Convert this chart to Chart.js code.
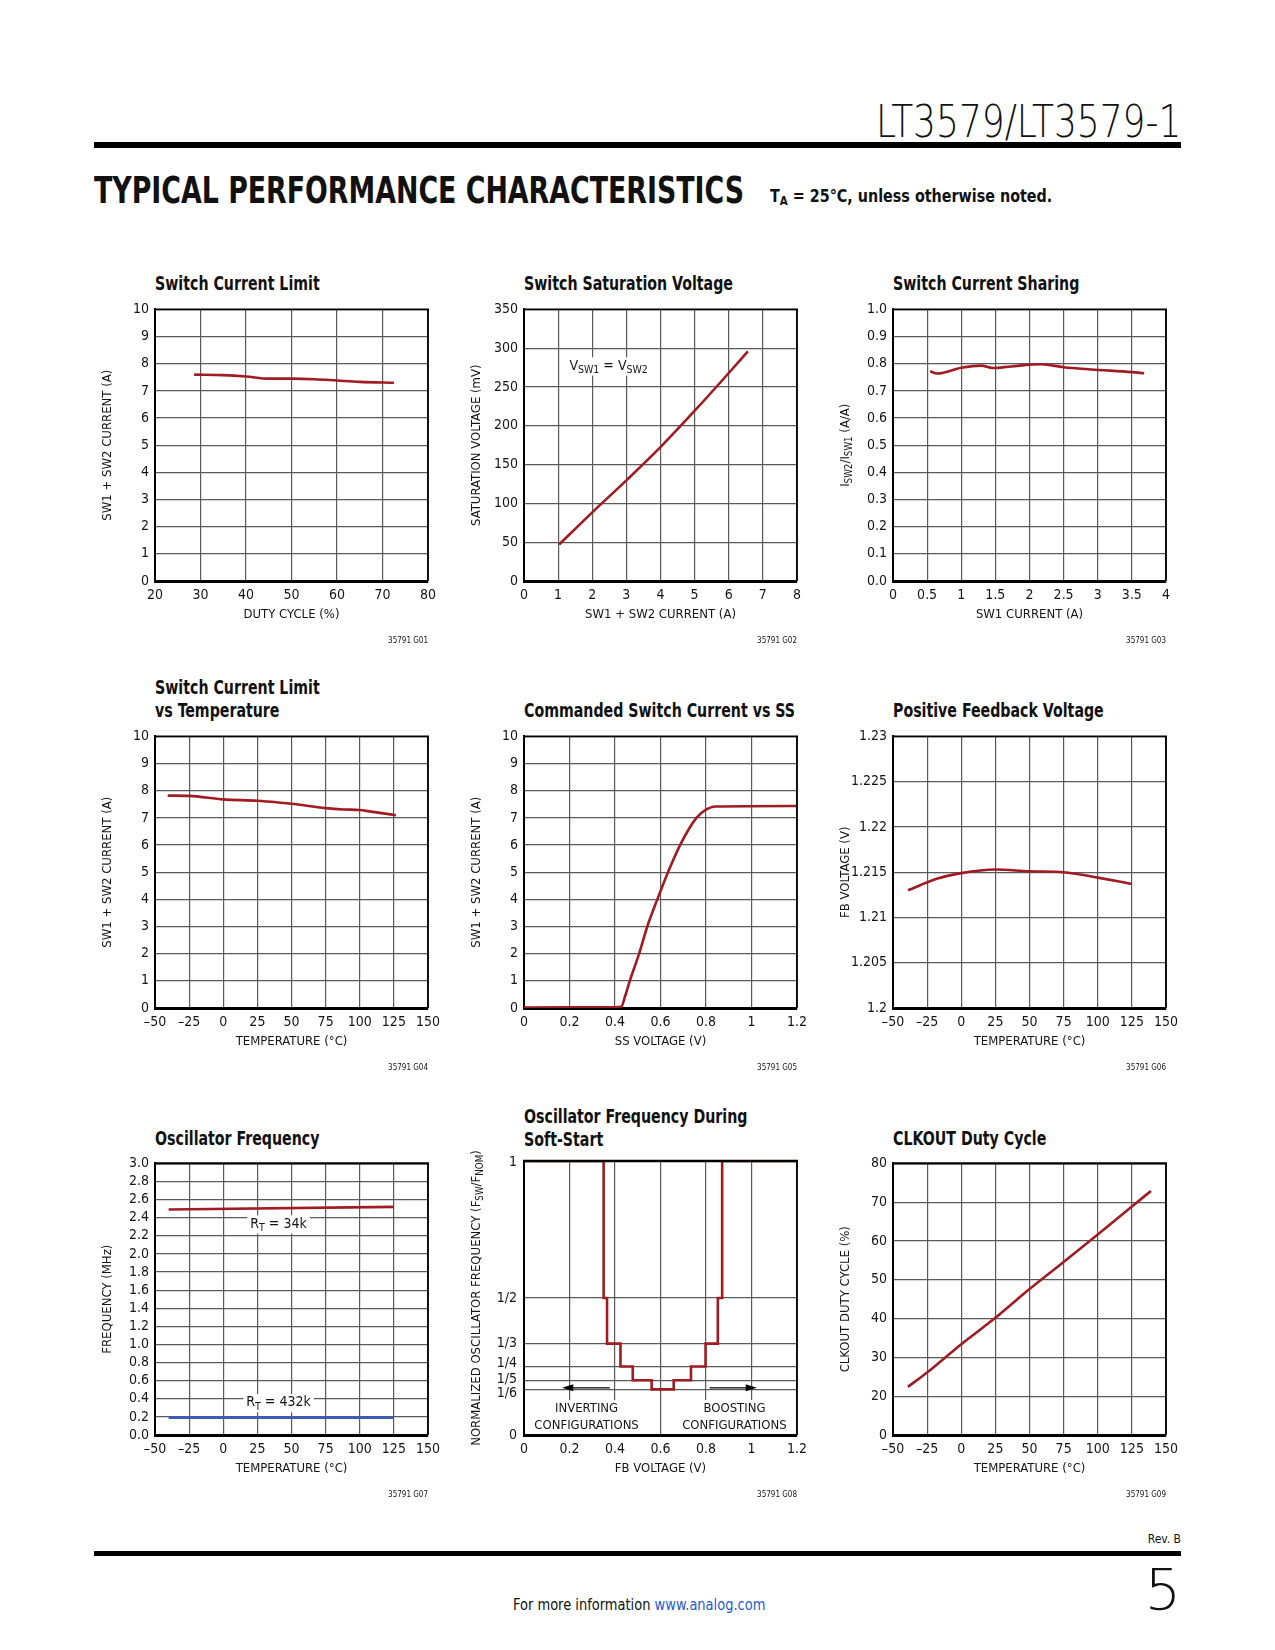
<!DOCTYPE html>
<html>
<head>
<meta charset="utf-8">
<script src="https://cdn.jsdelivr.net/npm/chart.js@4.4.0/dist/chart.umd.min.js"></script>
<style>
  body { margin: 0; background: #fff; width: 1275px; height: 1650px; position: relative; overflow: hidden;
         font-family: "Liberation Sans Narrow", "DejaVu Sans Condensed", sans-serif; color: #111; }
  .abs { position: absolute; white-space: nowrap; line-height: 1; }
  .ttl { position: absolute; white-space: nowrap; font-weight: bold; font-size: 19px; line-height: 23px; color: #111;
         transform: scaleX(0.83); transform-origin: left; }
  .bar { position: absolute; background: #000; }
  canvas { position: absolute; }
  sub { font-size: 72%; vertical-align: -3px; line-height: 0; }
</style>
</head>
<body>

<div class="abs" id="part" style="right:94px;top:100px;font-family:'DejaVu Sans';font-weight:200;font-size:44px;transform-origin:right;">LT3579/LT3579-1</div>
<div class="bar" style="left:94px;top:141.5px;width:1087px;height:6px;"></div>
<div class="abs" id="head" style="left:94px;top:172px;font-weight:bold;font-size:37px;transform-origin:left;">TYPICAL PERFORMANCE CHARACTERISTICS</div>
<div class="abs" id="cond" style="left:769.5px;top:187.5px;font-weight:bold;font-size:17px;transform-origin:left;">T<sub>A</sub> = 25°C, unless otherwise noted.</div>

<div class="ttl" style="left:155px;top:271.5px;">Switch Current Limit</div>
<div class="ttl" style="left:523.5px;top:271.5px;">Switch Saturation Voltage</div>
<div class="ttl" style="left:892.5px;top:271.5px;">Switch Current Sharing</div>
<div class="ttl" style="left:155px;top:675.5px;">Switch Current Limit<br>vs Temperature</div>
<div class="ttl" style="left:523.5px;top:698.5px;">Commanded Switch Current vs SS</div>
<div class="ttl" style="left:892.5px;top:698.5px;">Positive Feedback Voltage</div>
<div class="ttl" style="left:155px;top:1127px;">Oscillator Frequency</div>
<div class="ttl" style="left:523.5px;top:1105px;line-height:22.5px;">Oscillator Frequency During<br>Soft-Start</div>
<div class="ttl" style="left:892.5px;top:1127px;">CLKOUT Duty Cycle</div>

<div class="abs" style="right:94px;top:1533px;font-size:12px;">Rev. B</div>
<div class="bar" style="left:94px;top:1550.5px;width:1087px;height:5.5px;"></div>
<div class="abs" id="pnum" style="right:94px;top:1562px;font-family:'DejaVu Sans';font-weight:200;font-size:57px;transform-origin:right;">5</div>
<div class="abs" id="foot" style="left:512.5px;top:1598px;font-size:15px;transform-origin:left;">For more information <span style="color:#1f5bd0;">www.analog.com</span></div>

<script>
// ---------- data ----------
// G01 switch current limit vs duty cycle
var g1Duty = [28.6, 35, 40, 45, 50, 55, 60, 65, 72.5];
var g1Current = [7.6, 7.58, 7.53, 7.45, 7.45, 7.43, 7.38, 7.33, 7.3];
var g1XTicks = [20, 30, 40, 50, 60, 70, 80];
var g1YTicks = [0, 1, 2, 3, 4, 5, 6, 7, 8, 9, 10];

// G02 switch saturation voltage
var g2Current = [1.03, 2, 3.03, 4.02, 5.03, 6.02, 6.56];
var g2Vsat = [47, 88.5, 131, 173.5, 220.7, 269, 296];
var g2XTicks = [0, 1, 2, 3, 4, 5, 6, 7, 8];
var g2YTicks = [0, 50, 100, 150, 200, 250, 300, 350];

// G03 switch current sharing
var g3Isw1 = [0.544, 0.65, 1.0, 1.29, 1.46, 1.73, 2.17, 2.5, 2.9, 3.5, 3.68];
var g3Ratio = [0.772, 0.764, 0.785, 0.793, 0.784, 0.79, 0.798, 0.787, 0.779, 0.769, 0.765];
var g3XTicks = [0, 0.5, 1, 1.5, 2, 2.5, 3, 3.5, 4];
var g3XLabels = ["0", "0.5", "1", "1.5", "2", "2.5", "3", "3.5", "4"];
var g3YTicks = [0, 0.1, 0.2, 0.3, 0.4, 0.5, 0.6, 0.7, 0.8, 0.9, 1.0];
var g3YLabels = ["0.0", "0.1", "0.2", "0.3", "0.4", "0.5", "0.6", "0.7", "0.8", "0.9", "1.0"];

// temperature axis shared by G04, G06, G07, G09
var tempTicks = [-50, -25, 0, 25, 50, 75, 100, 125, 150];
var tempLabels = ["–50", "–25", "0", "25", "50", "75", "100", "125", "150"];

// G04 current limit vs temperature
var g4Temp = [-40.7, -25, 0, 25, 42, 50, 75, 88, 100, 107, 126.5];
var g4Current = [7.82, 7.81, 7.68, 7.63, 7.56, 7.52, 7.36, 7.31, 7.29, 7.24, 7.1];

// G05 commanded switch current vs SS
var g5Ss = [0, 0.4, 0.428, 0.445, 0.465, 0.506, 0.542, 0.586, 0.633, 0.686, 0.758, 0.8, 0.84, 1.2];
var g5Current = [0.02, 0.03, 0.05, 0.45, 1, 2, 3, 4, 5, 6, 7, 7.3, 7.42, 7.44];
var ssTicks = [0, 0.2, 0.4, 0.6, 0.8, 1, 1.2];
var ssLabels = ["0", "0.2", "0.4", "0.6", "0.8", "1", "1.2"];

// G06 positive feedback voltage
var g6Temp = [-39, -17.4, 0, 25, 50, 75, 85, 100, 125];
var g6Fb = [1.2130, 1.2143, 1.2149, 1.2153, 1.2151, 1.2150, 1.2148, 1.2144, 1.2137];
var g6YTicks = [1.2, 1.205, 1.21, 1.215, 1.22, 1.225, 1.23];
var g6YLabels = ["1.2", "1.205", "1.21", "1.215", "1.22", "1.225", "1.23"];

// G07 oscillator frequency
var g7Temp = [-40, 125];
var g7Rt34k = [2.49, 2.52];
var g7Rt432k = [0.19, 0.19];
var g7YTicks = [0, 0.2, 0.4, 0.6, 0.8, 1, 1.2, 1.4, 1.6, 1.8, 2, 2.2, 2.4, 2.6, 2.8, 3];
var g7YLabels = ["0.0", "0.2", "0.4", "0.6", "0.8", "1.0", "1.2", "1.4", "1.6", "1.8", "2.0", "2.2", "2.4", "2.6", "2.8", "3.0"];

// G08 oscillator frequency during soft-start (stepped)
var g8Fb = [0, 0.35, 0.365, 0.424, 0.478, 0.561, 0.658, 0.734, 0.798, 0.852, 0.871, 1.2];
var g8Ratio = [1, 1/2, 1/3, 1/4, 1/5, 1/6, 1/5, 1/4, 1/3, 1/2, 1, 1];
var g8YTicks = [0, 1/6, 1/5, 1/4, 1/3, 1/2, 1];
var g8YLabels = ["0", "1/6", "1/5", "1/4", "1/3", "1/2", "1"];

// G09 CLKOUT duty cycle (broken axis: bottom tick reads 0)
var g9Temp = [-39.1, -25, 0, 25, 50, 75, 100, 125, 139];
var g9Duty = [22.4, 26.1, 33.4, 40.2, 47.6, 54.6, 61.7, 68.9, 72.9];
var g9YTicks = [10, 20, 30, 40, 50, 60, 70, 80];
var g9YLabels = ["0", "20", "30", "40", "50", "60", "70", "80"];

// ---------- layout ----------
var FONT = '"Liberation Sans Narrow", "DejaVu Sans Condensed", sans-serif';
var RED = "#a01c22", BLUE = "#3a5cc4", GRID = "#5a5a5a", TXT = "#151515";
var COL_L = [155, 523.5, 892.5], ROW_T = [306.5, 734.3, 1161], PW = 273, PH = 274.4;
var PAD_L = 75, PAD_T = 12, PAD_R = 22, PAD_B = 72;

function parseRich(str) {
  var parts = [], re = /_\{([^}]*)\}/g, last = 0, m;
  while ((m = re.exec(str))) {
    if (m.index > last) parts.push({ t: str.slice(last, m.index), sub: false });
    parts.push({ t: m[1], sub: true });
    last = re.lastIndex;
  }
  if (last < str.length) parts.push({ t: str.slice(last), sub: false });
  return parts;
}

function drawRich(ctx, str, x, y, size, align, bg) {
  var parts = parseRich(str), w = 0;
  parts.forEach(function (p) {
    ctx.font = (p.sub ? size * 0.75 : size) + "px " + FONT;
    p.w = ctx.measureText(p.t).width;
    w += p.w;
  });
  var sx = align === "center" ? x - w / 2 : (align === "right" ? x - w : x);
  if (bg) {
    ctx.fillStyle = "#fff";
    ctx.fillRect(sx - 3, y - size * 0.62, w + 6, size * 1.3);
  }
  ctx.fillStyle = TXT;
  ctx.textBaseline = "middle";
  ctx.textAlign = "left";
  parts.forEach(function (p) {
    ctx.font = (p.sub ? size * 0.75 : size) + "px " + FONT;
    ctx.fillText(p.t, sx, p.sub ? y + size * 0.3 : y);
    sx += p.w;
  });
}

function axis(min, max, ticks, labels, isX, hideLabels) {
  return {
    type: "linear", min: min, max: max,
    afterBuildTicks: function (s) { s.ticks = ticks.map(function (v) { return { value: v }; }); },
    afterFit: function (s) { if (isX) s.height = PAD_B; else s.width = PAD_L; },
    grid: { color: GRID, lineWidth: 1.2, drawTicks: false },
    border: { color: "#000", width: isX ? 3 : 2 },
    ticks: {
      display: !hideLabels,
      autoSkip: false, maxRotation: 0, padding: 6, color: TXT,
      font: { family: FONT, size: 14 },
      callback: function (v, i) { return labels ? labels[i] : String(ticks[i]); }
    }
  };
}

function series(xs, ys, color, stepped) {
  return {
    data: xs.map(function (x, i) { return { x: x, y: ys[i] }; }),
    borderColor: color, borderWidth: 2.6, pointRadius: 0, fill: false,
    cubicInterpolationMode: stepped ? "default" : "monotone",
    stepped: stepped ? "before" : false
  };
}

function makeChart(cfg) {
  var cv = document.createElement("canvas");
  cv.width = PAD_L + PW + PAD_R;
  cv.height = Math.round(PAD_T + PH + PAD_B);
  cv.style.left = (COL_L[cfg.col] - PAD_L) + "px";
  cv.style.top = (ROW_T[cfg.row] - PAD_T) + "px";
  document.body.appendChild(cv);

  var decor = {
    id: "decor",
    afterDatasetsDraw: function (chart) {
      var ctx = chart.ctx, a = chart.chartArea;
      ctx.save();
      ctx.strokeStyle = "#000";
      ctx.lineWidth = cfg.topW || 1.8;
      ctx.beginPath(); ctx.moveTo(a.left - 1, a.top); ctx.lineTo(a.right + 1, a.top); ctx.stroke();
      ctx.lineWidth = 1.8;
      ctx.beginPath(); ctx.moveTo(a.right, a.top); ctx.lineTo(a.right, a.bottom); ctx.stroke();
      ctx.restore();
    },
    afterDraw: function (chart) {
      var ctx = chart.ctx, a = chart.chartArea, sx = chart.scales.x, sy = chart.scales.y;
      ctx.save();
      // y tick labels nudged apart where the ticks crowd together
      if (cfg.yShift) {
        cfg.yTicks.forEach(function (v, i) {
          ctx.font = "14px " + FONT;
          ctx.fillStyle = TXT;
          ctx.textAlign = "right";
          ctx.textBaseline = "middle";
          ctx.fillText(cfg.yLabels[i], a.left - 7, sy.getPixelForValue(v) + cfg.yShift[i]);
        });
      }
      // axis titles
      ctx.save();
      ctx.translate(a.left - 47, (a.top + a.bottom) / 2);
      ctx.rotate(-Math.PI / 2);
      drawRich(ctx, cfg.yTitle, 0, 0, 13, "center");
      ctx.restore();
      drawRich(ctx, cfg.xTitle, (a.left + a.right) / 2, a.bottom + 34, 13, "center");
      // figure number
      ctx.font = "8px " + FONT;
      ctx.fillStyle = TXT;
      ctx.textAlign = "right";
      ctx.textBaseline = "middle";
      ctx.fillText(cfg.fig, a.right, a.bottom + 60);
      // notes inside the plot
      (cfg.notes || []).forEach(function (n) {
        drawRich(ctx, n.text, sx.getPixelForValue(n.x), sy.getPixelForValue(n.y), n.size || 14, "center", true);
      });
      (cfg.arrows || []).forEach(function (ar) {
        var x0 = sx.getPixelForValue(ar.from), x1 = sx.getPixelForValue(ar.to), y = sy.getPixelForValue(ar.y);
        var dir = x1 > x0 ? 1 : -1;
        ctx.strokeStyle = "#000"; ctx.fillStyle = "#000"; ctx.lineWidth = 1.2;
        ctx.beginPath(); ctx.moveTo(x0, y); ctx.lineTo(x1 - dir * 8, y); ctx.stroke();
        ctx.beginPath(); ctx.moveTo(x1, y); ctx.lineTo(x1 - dir * 11, y - 3.5); ctx.lineTo(x1 - dir * 11, y + 3.5); ctx.closePath(); ctx.fill();
      });
      ctx.restore();
    }
  };

  return new Chart(cv, {
    type: "line",
    data: { datasets: cfg.sets },
    options: {
      responsive: false, animation: false, devicePixelRatio: 1,
      layout: { padding: { left: 0, top: PAD_T, right: PAD_R, bottom: 0 } },
      plugins: { legend: { display: false }, tooltip: { enabled: false } },
      scales: {
        x: axis(cfg.x[0], cfg.x[1], cfg.xTicks, cfg.xLabels, true),
        y: axis(cfg.y[0], cfg.y[1], cfg.yTicks, cfg.yLabels, false, !!cfg.yShift)
      }
    },
    plugins: [decor]
  });
}

makeChart({ col: 0, row: 0, x: [20, 80], y: [0, 10], xTicks: g1XTicks, yTicks: g1YTicks,
  sets: [series(g1Duty, g1Current, RED)],
  xTitle: "DUTY CYCLE (%)", yTitle: "SW1 + SW2 CURRENT (A)", fig: "35791 G01" });

makeChart({ col: 1, row: 0, x: [0, 8], y: [0, 350], xTicks: g2XTicks, yTicks: g2YTicks,
  sets: [series(g2Current, g2Vsat, RED)],
  xTitle: "SW1 + SW2 CURRENT (A)", yTitle: "SATURATION VOLTAGE (mV)", fig: "35791 G02",
  notes: [{ text: "V_{SW1} = V_{SW2}", x: 2.48, y: 277 }] });

makeChart({ col: 2, row: 0, x: [0, 4], y: [0, 1], xTicks: g3XTicks, xLabels: g3XLabels, yTicks: g3YTicks, yLabels: g3YLabels,
  sets: [series(g3Isw1, g3Ratio, RED)],
  xTitle: "SW1 CURRENT (A)", yTitle: "I_{SW2}/I_{SW1} (A/A)", fig: "35791 G03" });

makeChart({ col: 0, row: 1, x: [-50, 150], y: [0, 10], xTicks: tempTicks, xLabels: tempLabels, yTicks: g1YTicks,
  sets: [series(g4Temp, g4Current, RED)],
  xTitle: "TEMPERATURE (°C)", yTitle: "SW1 + SW2 CURRENT (A)", fig: "35791 G04" });

makeChart({ col: 1, row: 1, x: [0, 1.2], y: [0, 10], xTicks: ssTicks, xLabels: ssLabels, yTicks: g1YTicks,
  sets: [series(g5Ss, g5Current, RED)],
  xTitle: "SS VOLTAGE (V)", yTitle: "SW1 + SW2 CURRENT (A)", fig: "35791 G05" });

makeChart({ col: 2, row: 1, x: [-50, 150], y: [1.2, 1.23], xTicks: tempTicks, xLabels: tempLabels, yTicks: g6YTicks, yLabels: g6YLabels,
  sets: [series(g6Temp, g6Fb, RED)],
  xTitle: "TEMPERATURE (°C)", yTitle: "FB VOLTAGE (V)", fig: "35791 G06" });

makeChart({ col: 0, row: 2, x: [-50, 150], y: [0, 3], xTicks: tempTicks, xLabels: tempLabels, yTicks: g7YTicks, yLabels: g7YLabels,
  sets: [series(g7Temp, g7Rt34k, RED), series(g7Temp, g7Rt432k, BLUE)], topW: 2.4,
  xTitle: "TEMPERATURE (°C)", yTitle: "FREQUENCY (MHz)", fig: "35791 G07",
  notes: [{ text: "R_{T} = 34k", x: 40.5, y: 2.33 }, { text: "R_{T} = 432k", x: 40.5, y: 0.356 }] });

makeChart({ col: 1, row: 2, x: [0, 1.2], y: [0, 1], xTicks: ssTicks, xLabels: ssLabels, yTicks: g8YTicks, yLabels: g8YLabels,
  yShift: [0, 4, -1, -3, 0, 0, 1],
  sets: [series(g8Fb, g8Ratio, RED, true)], topW: 2.6,
  xTitle: "FB VOLTAGE (V)", yTitle: "NORMALIZED OSCILLATOR FREQUENCY (F_{SW}/F_{NOM})", fig: "35791 G08",
  notes: [{ text: "INVERTING", x: 0.275, y: 0.098, size: 13 }, { text: "CONFIGURATIONS", x: 0.275, y: 0.036, size: 13 },
          { text: "BOOSTING", x: 0.925, y: 0.098, size: 13 }, { text: "CONFIGURATIONS", x: 0.925, y: 0.036, size: 13 }],
  arrows: [{ from: 0.377, to: 0.168, y: 0.172 }, { from: 0.816, to: 1.023, y: 0.172 }] });

makeChart({ col: 2, row: 2, x: [-50, 150], y: [10, 80], xTicks: tempTicks, xLabels: tempLabels, yTicks: g9YTicks, yLabels: g9YLabels,
  sets: [series(g9Temp, g9Duty, RED)], topW: 2.4,
  xTitle: "TEMPERATURE (°C)", yTitle: "CLKOUT DUTY CYCLE (%)", fig: "35791 G09" });

// stretch header/footer texts to the widths seen in the reference
function fitWidth(id, w) {
  var el = document.getElementById(id);
  el.style.transform = "scaleX(" + (w / el.offsetWidth) + ")";
}
fitWidth("part", 305);
fitWidth("head", 650);
fitWidth("cond", 282);
fitWidth("foot", 252);
</script>
</body>
</html>
